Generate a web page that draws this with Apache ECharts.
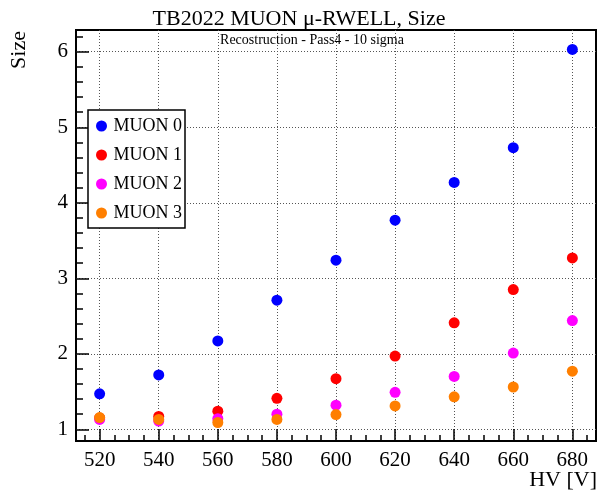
<!DOCTYPE html>
<html>
<head>
<meta charset="utf-8">
<script src="https://cdn.jsdelivr.net/npm/echarts@6/dist/echarts.min.js"></script>
<style>html,body{margin:0;padding:0;background:#fff}#c{width:598px;height:493px}</style>
</head>
<body>
<div id="c"></div>
<script>
var hv = [520, 540, 560, 580, 600, 620, 640, 660, 680];
var muon0 = [1.47, 1.72, 2.17, 2.71, 3.24, 3.77, 4.27, 4.73, 6.03];
var muon1 = [1.15, 1.17, 1.24, 1.41, 1.67, 1.97, 2.41, 2.85, 3.27];
var muon2 = [1.13, 1.11, 1.14, 1.20, 1.32, 1.49, 1.70, 2.01, 2.44];
var muon3 = [1.155, 1.13, 1.09, 1.13, 1.195, 1.31, 1.43, 1.56, 1.77];
var seriesNames = ['MUON 0', 'MUON 1', 'MUON 2', 'MUON 3'];
var seriesColors = ['#0000ff', '#ff0000', '#ff00ff', '#ff7f00'];
var xMajorTicks = [520, 540, 560, 580, 600, 620, 640, 660, 680];
var xMinorTicks = [515, 525, 530, 535, 545, 550, 555, 565, 570, 575, 585, 590, 595, 605, 610, 615, 625, 630, 635, 645, 650, 655, 665, 670, 675, 685];
var yMajorTicks = [1, 2, 3, 4, 5, 6];
var yMinorTicks = [1.2, 1.4, 1.6, 1.8, 2.2, 2.4, 2.6, 2.8, 3.2, 3.4, 3.6, 3.8, 4.2, 4.4, 4.6, 4.8, 5.2, 5.4, 5.6, 5.8, 6.2];

var FONT = 'Liberation Serif';
var XMIN = 512, XMAX = 688, YMIN = 0.845, YMAX = 6.288;

var allData = [muon0, muon1, muon2, muon3];
var series = allData.map(function (vals, i) {
  return {
    name: seriesNames[i],
    type: 'scatter',
    xAxisIndex: 0, yAxisIndex: 0,
    symbol: 'circle',
    symbolSize: 11,
    itemStyle: { color: seriesColors[i], opacity: 1 },
    data: hv.map(function (x, j) { return [x, vals[j]]; }),
    z: 5 + i
  };
});

var chart = echarts.init(document.getElementById('c'), null, { renderer: 'canvas' });
chart.setOption({
  animation: false,
  backgroundColor: '#fff',
  title: {
    text: 'TB2022 MUON \u03bc-RWELL, Size',
    left: 'center', top: 3,
    textStyle: { fontFamily: FONT, fontSize: 22, fontWeight: 'normal', color: '#000' }
  },
  grid: {
    left: 76, right: 2, top: 30, bottom: 52,
    show: true, borderColor: '#000', borderWidth: 2, backgroundColor: 'transparent'
  },
  legend: {
    orient: 'vertical', left: 88, top: 110,
    data: seriesNames,
    icon: 'circle', itemWidth: 14, itemHeight: 11, itemGap: 11,
    padding: [7, 3, 6, 8],
    borderColor: '#000', borderWidth: 1.5, backgroundColor: '#fff',
    textStyle: { fontFamily: FONT, fontSize: 18, color: '#000' },
    selectedMode: false, z: 10
  },
  xAxis: [{
    type: 'value', min: XMIN, max: XMAX, position: 'bottom',
    axisLine: { show: false },
    axisTick: { show: true, inside: true, length: 12, customValues: xMajorTicks, lineStyle: { color: '#000', width: 1.5 } },
    axisLabel: { show: true, customValues: xMajorTicks, margin: 9, fontFamily: FONT, fontSize: 21, color: '#000' },
    splitLine: { show: true, lineStyle: { type: [1, 2], color: '#555', width: 1 } }
  }, {
    type: 'value', min: XMIN, max: XMAX, position: 'bottom', offset: 0,
    axisLine: { show: false },
    axisTick: { show: true, inside: true, length: 6, customValues: xMinorTicks, lineStyle: { color: '#000', width: 1.5 } },
    axisLabel: { show: false },
    splitLine: { show: false }
  }],
  yAxis: [{
    type: 'value', min: YMIN, max: YMAX, position: 'left',
    axisLine: { show: false },
    axisTick: { show: true, inside: true, length: 13, customValues: yMajorTicks, lineStyle: { color: '#000', width: 1.5 } },
    axisLabel: { show: true, customValues: yMajorTicks, margin: 8, fontFamily: FONT, fontSize: 21, color: '#000' },
    splitLine: { show: true, lineStyle: { type: [1, 2], color: '#555', width: 1 } }
  }, {
    type: 'value', min: YMIN, max: YMAX, position: 'left', offset: 0,
    axisLine: { show: false },
    axisTick: { show: true, inside: true, length: 7, customValues: yMinorTicks, lineStyle: { color: '#000', width: 1.5 } },
    axisLabel: { show: false },
    splitLine: { show: false }
  }],
  graphic: [
    { type: 'text', x: 312, y: 40, style: { text: 'Recostruction - Pass4 - 10 sigma', font: '14px "Liberation Serif"', fill: '#000', align: 'center', verticalAlign: 'middle' }, z: 20 },
    { type: 'text', x: 597, y: 480, style: { text: 'HV [V]', font: '22px "Liberation Serif"', fill: '#000', align: 'right', verticalAlign: 'middle' } },
    { type: 'text', x: 19, y: 31, rotation: Math.PI / 2, style: { text: 'Size', font: '22px "Liberation Serif"', fill: '#000', align: 'right', verticalAlign: 'middle' } }
  ],
  series: series
});
</script>
</body>
</html>
